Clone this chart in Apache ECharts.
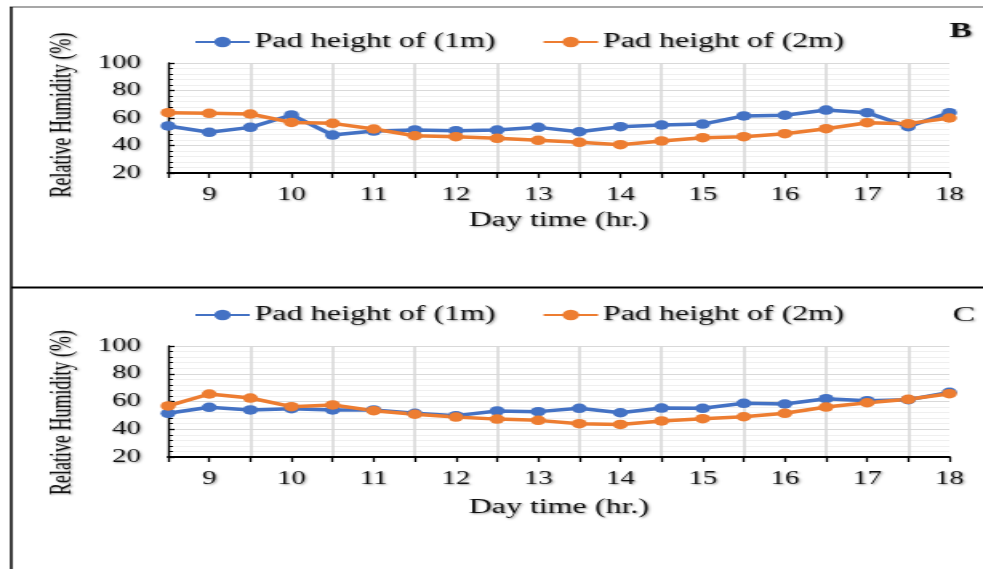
<!DOCTYPE html>
<html>
<head>
<meta charset="utf-8">
<script src="https://cdn.jsdelivr.net/npm/echarts@6/dist/echarts.min.js"></script>
<style>
  html, body { margin: 0; padding: 0; background: #fff; overflow: hidden; }
  /* The figure is laid out on a narrower canvas and stretched horizontally */
  #chart { width: 614px; height: 569px; transform: scaleX(1.601); transform-origin: 0 0; }
</style>
</head>
<body>
<div id="chart"></div>
<script>
// Hours of the day, sampled every half hour
const hours = ['8.5','9','9.5','10','10.5','11','11.5','12','12.5','13','13.5','14','14.5','15','15.5','16','16.5','17','17.5','18'];

// Panel B: relative humidity (%)
const rhB_1m = [54.2, 49.6, 53.2, 62.2, 47.6, 50.5, 51.3, 50.8, 51.2, 53.2, 50.0, 53.7, 54.9, 55.6, 61.5, 62.0, 65.8, 63.9, 53.7, 63.9];
const rhB_2m = [63.9, 63.4, 62.9, 56.8, 56.1, 52.0, 47.1, 46.4, 45.2, 43.8, 42.3, 40.6, 43.3, 45.7, 46.4, 48.6, 52.2, 56.6, 55.9, 60.0];

// Panel C: relative humidity (%)
const rhC_1m = [51.5, 55.8, 53.9, 54.8, 53.9, 53.9, 51.5, 49.8, 53.2, 52.7, 55.1, 51.9, 55.3, 55.1, 58.7, 58.2, 62.0, 60.6, 61.3, 66.6];
const rhC_2m = [56.8, 65.4, 62.5, 56.3, 57.5, 53.4, 50.8, 48.8, 47.3, 46.4, 44.0, 43.5, 46.0, 47.6, 49.0, 51.5, 56.0, 59.1, 61.6, 65.6];

const seriesNames = ['Pad height of (1m)', 'Pad height of (2m)'];
const panelLetters = ['B', 'C'];

const BLUE = '#4472C4';
const ORANGE = '#ED7D31';
const FONT = '"Liberation Serif", "Times New Roman", serif';
const shadow = { textShadowColor: 'rgba(0,0,0,0.4)', textShadowBlur: 2, textShadowOffsetX: 1, textShadowOffsetY: 1 };

const grids = [
  { left: 105, right: 21, top: 63, height: 110 },
  { left: 105, right: 21, top: 346, height: 111 }
];

function xAxisFor(gi, nameGap) {
  return {
    type: 'category', gridIndex: gi, data: hours, boundaryGap: false,
    name: 'Day time (hr.)', nameLocation: 'middle', nameGap: nameGap,
    nameTextStyle: Object.assign({ fontFamily: FONT, fontSize: 20, color: '#111' }, shadow),
    axisLine: { lineStyle: { color: '#000', width: 2 } },
    axisTick: { show: true, interval: 0, length: 5, lineStyle: { color: '#000', width: 1.3 } },
    axisLabel: Object.assign({
      interval: function (i) { return i % 2 === 1; },
      margin: 13,
      fontFamily: FONT, fontSize: 18, color: '#111'
    }, shadow),
    splitLine: {
      show: true,
      interval: function (i) { return i % 2 === 0 && i > 0; },
      lineStyle: { color: '#d9d9d9', width: 1.6 }
    }
  };
}

function yAxisFor(gi, namePad) {
  return {
    type: 'value', gridIndex: gi, min: 20, max: 100, interval: 20,
    name: 'Relative Humidity (%)', nameLocation: 'middle', nameGap: 57, nameRotate: 90,
    nameTextStyle: Object.assign({ fontFamily: FONT, fontSize: 18, color: '#111', padding: namePad }, shadow),
    axisLine: { show: true, lineStyle: { color: '#000', width: 1.4 } },
    axisTick: { show: true, inside: true, length: 4, lineStyle: { color: '#000', width: 1.3 } },
    minorTick: { show: true, splitNumber: 5, length: 3, lineStyle: { color: '#000', width: 1 } },
    axisLabel: Object.assign({ margin: 17, fontFamily: FONT, fontSize: 18, color: '#111' }, shadow),
    splitLine: { show: true, lineStyle: { color: '#d9d9d9', width: 1 } },
    minorSplitLine: { show: true, lineStyle: { color: '#efefef', width: 1 } }
  };
}

function lineSeries(name, data, color, gi) {
  return {
    type: 'line', name: name, data: data,
    xAxisIndex: gi, yAxisIndex: gi,
    symbol: 'circle', symbolSize: 9.5, showSymbol: true,
    lineStyle: { color: color, width: 3.5 },
    itemStyle: { color: color },
    z: 3
  };
}

function legendFor(top) {
  return {
    data: seriesNames, top: top, left: 116,
    itemWidth: 34, itemHeight: 13, itemGap: 29,
    textStyle: Object.assign({ fontFamily: FONT, fontSize: 20, color: '#111', padding: [0, 0, 0, -2] }, shadow),
    selectedMode: false
  };
}

const option = {
  backgroundColor: '#fff',
  animation: false,
  grid: grids,
  xAxis: [xAxisFor(0, 38), xAxisFor(1, 41)],
  yAxis: [yAxisFor(0, [0, 0, 0, 6]), yAxisFor(1, [0, 22, 0, 0])],
  legend: [legendFor(27), legendFor(300)],
  title: [
    { text: panelLetters[0], left: 588, top: 16, textStyle: Object.assign({ fontFamily: FONT, fontSize: 21, fontWeight: 'bold', color: '#111' }, shadow) },
    { text: panelLetters[1], left: 590, top: 300, textStyle: Object.assign({ fontFamily: FONT, fontSize: 21, fontWeight: 'normal', color: '#111' }, shadow) }
  ],
  series: [
    lineSeries(seriesNames[0], rhB_1m, BLUE, 0),
    lineSeries(seriesNames[1], rhB_2m, ORANGE, 0),
    lineSeries(seriesNames[0], rhC_1m, BLUE, 1),
    lineSeries(seriesNames[1], rhC_2m, ORANGE, 1)
  ],
  graphic: [
    // outer frame: grey top rule, black left rule, black divider between panels
    { type: 'line', shape: { x1: 6, y1: 7, x2: 614, y2: 7 }, style: { stroke: '#8a8a8a', lineWidth: 1.5 }, silent: true },
    { type: 'line', shape: { x1: 7, y1: 7, x2: 7, y2: 569 }, style: { stroke: '#000', lineWidth: 1.5 }, silent: true },
    { type: 'line', shape: { x1: 7, y1: 287.5, x2: 614, y2: 287.5 }, style: { stroke: '#000', lineWidth: 2 }, silent: true }
  ]
};

const chart = echarts.init(document.getElementById('chart'), null, { renderer: 'canvas' });
chart.setOption(option);
</script>
</body>
</html>
